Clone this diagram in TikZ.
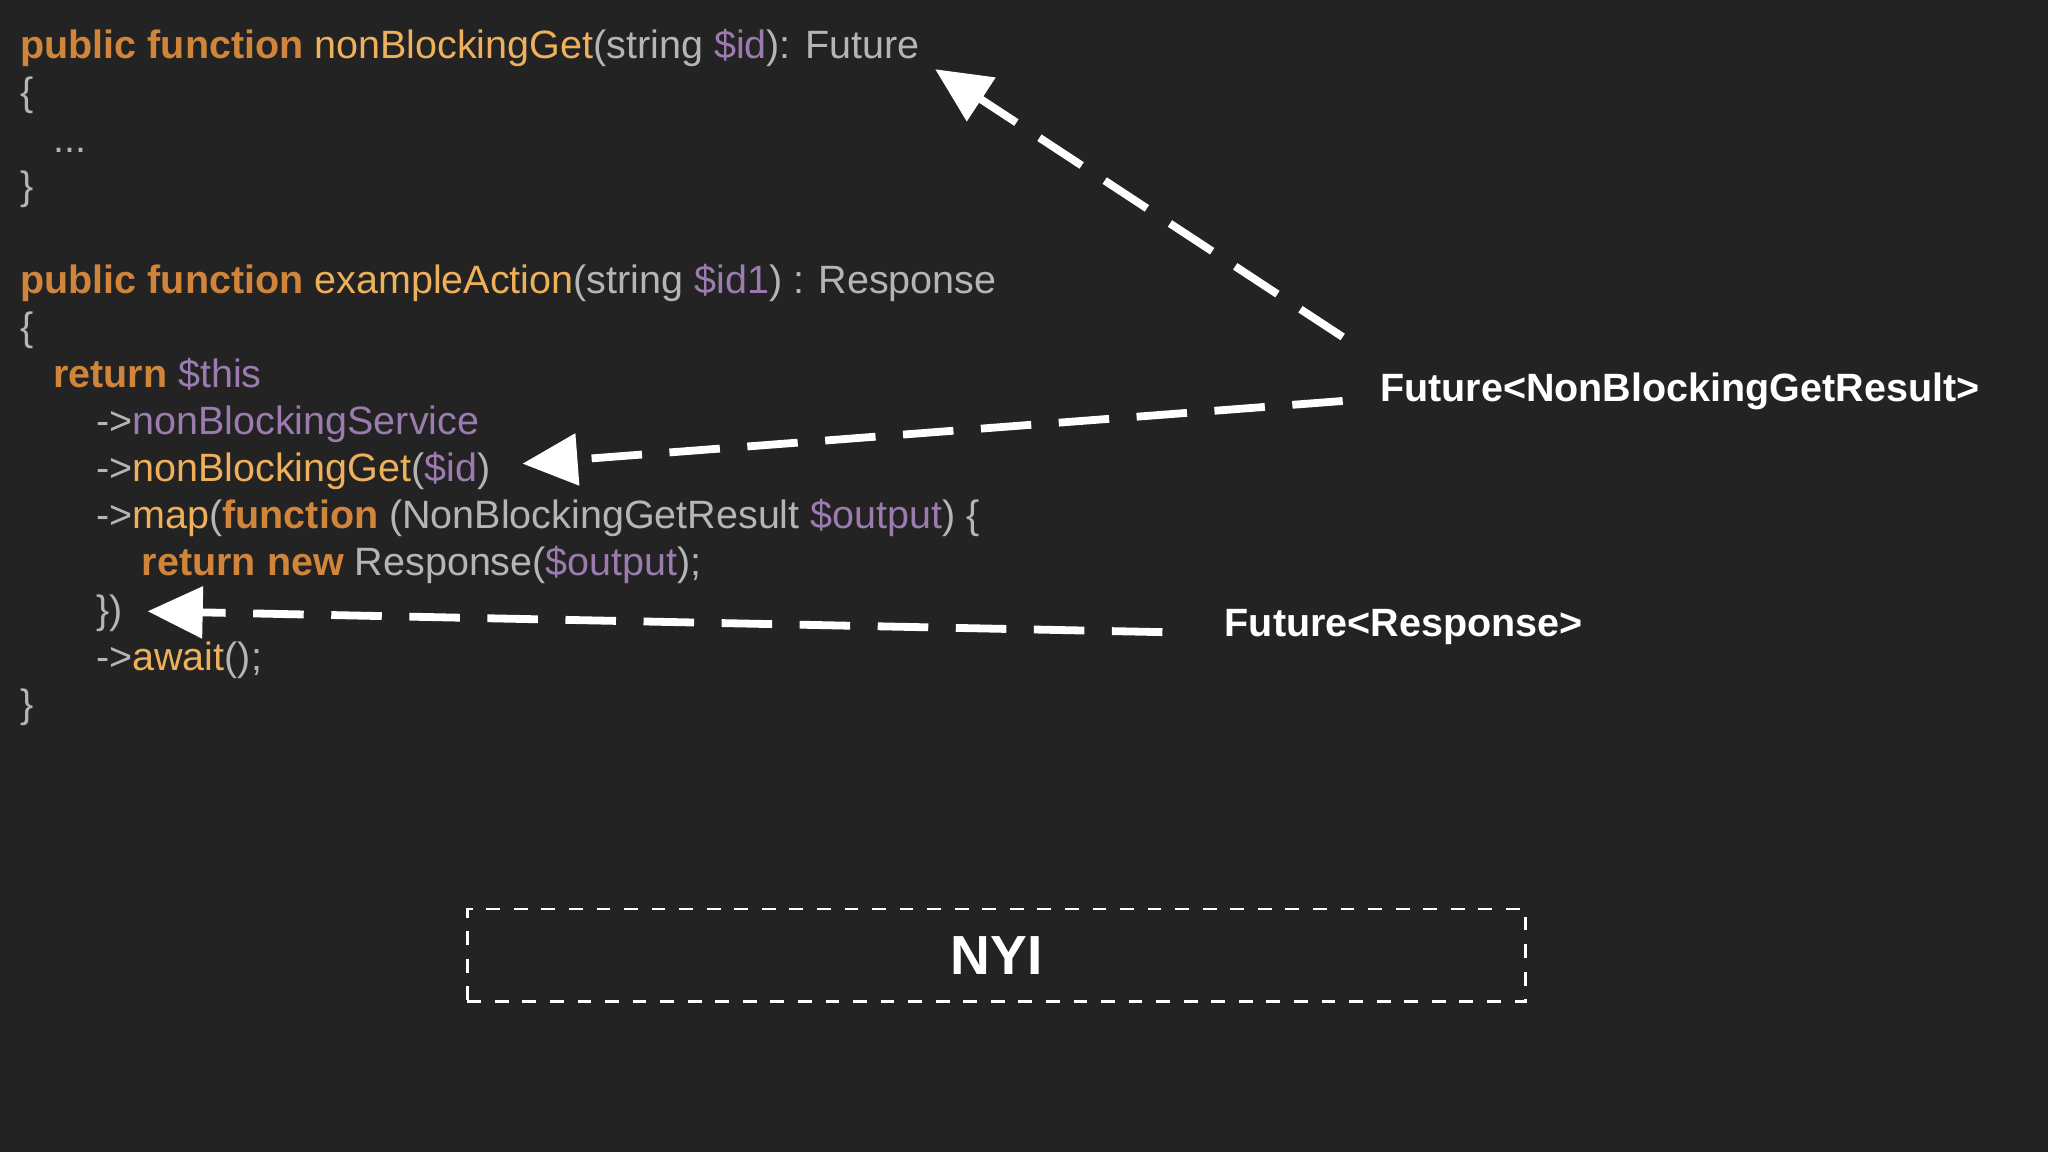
\documentclass[tikz,border=0pt]{standalone}
\usepackage{fontspec}
\setmainfont{Liberation Sans}
\usetikzlibrary{arrows.meta}
\definecolor{bg}{HTML}{232323}
\definecolor{kw}{HTML}{D0853A}
\definecolor{fn}{HTML}{EFB05C}
\definecolor{tx}{HTML}{B5B5B5}
\definecolor{pu}{HTML}{9B7BB0}
\begin{document}
\begin{tikzpicture}[x=0.01cm,y=-0.01cm,
  code/.style={anchor=base west,inner sep=0pt,font=\fontsize{8.6pt}{9.5pt}\selectfont,text=tx},
  lbl/.style={anchor=west,inner sep=0pt,font=\bfseries\fontsize{8.6pt}{9.5pt}\selectfont,text=white},
  darr/.style={draw=white,line width=1.7pt,dash pattern=on 11pt off 6pt,-{Triangle[length=12pt,width=11pt]}}]
\useasboundingbox (0,0) rectangle (1568,882);
\fill[bg] (0,0) rectangle (1568,882);
\newcommand{\K}[1]{\textcolor{kw}{\bfseries #1}}
\newcommand{\F}[1]{\textcolor{fn}{#1}}
\newcommand{\V}[1]{\textcolor{pu}{#1}}
\node[code] (l1) at (15,45) {\K{public function} \F{nonBlockingGet}(string \V{\$id}): Future};
\node[code] (l2) at (15,81) {\{};
\node[code] (l3) at (40,117) {...};
\node[code] (l4) at (15,153) {\}};
\node[code] (l5) at (15,225) {\K{public function} \F{exampleAction}(string \V{\$id1}) : Response};
\node[code] (l6) at (15,261) {\{};
\node[code] (l7) at (40,297) {\K{return} \V{\$this}};
\node[code] (l8) at (73,333) {->\V{nonBlockingService}};
\node[code] (l9) at (73,369) {->\F{nonBlockingGet}(\V{\$id})};
\node[code] (l10) at (73,405) {->\F{map}(\K{function} (NonBlockingGetResult \V{\$output}) \{};
\node[code] (l11) at (108,441) {\K{return new} Response(\V{\$output});};
\node[code] (l12) at (73,477) {\})};
\node[code] (l13) at (73,513) {->\F{await}();};
\node[code] (l14) at (15,549) {\}};
\node[lbl] (f1) at (1056,300) {Future<NonBlockingGetResult>};
\node[lbl] (f2) at (937,480) {Future<Response>};
\coordinate (a1s) at (1028,258);
\coordinate (a1e) at (716,53);
\coordinate (a2s) at (1028,307);
\coordinate (a2e) at (400,355);
\coordinate (a3s) at (890,484);
\coordinate (a3e) at (113,468);
\draw[darr] (a1s) -- (a1e);
\draw[darr] (a2s) -- (a2e);
\draw[darr] (a3s) -- (a3e);
\node[draw=white,dashed,line width=0.6pt,minimum width=8.1cm,minimum height=0.71cm,inner sep=0pt,
  font=\bfseries\fontsize{12pt}{13pt}\selectfont,text=white] (nyi) at (763,731.5) {NYI};
\end{tikzpicture}
\end{document}
